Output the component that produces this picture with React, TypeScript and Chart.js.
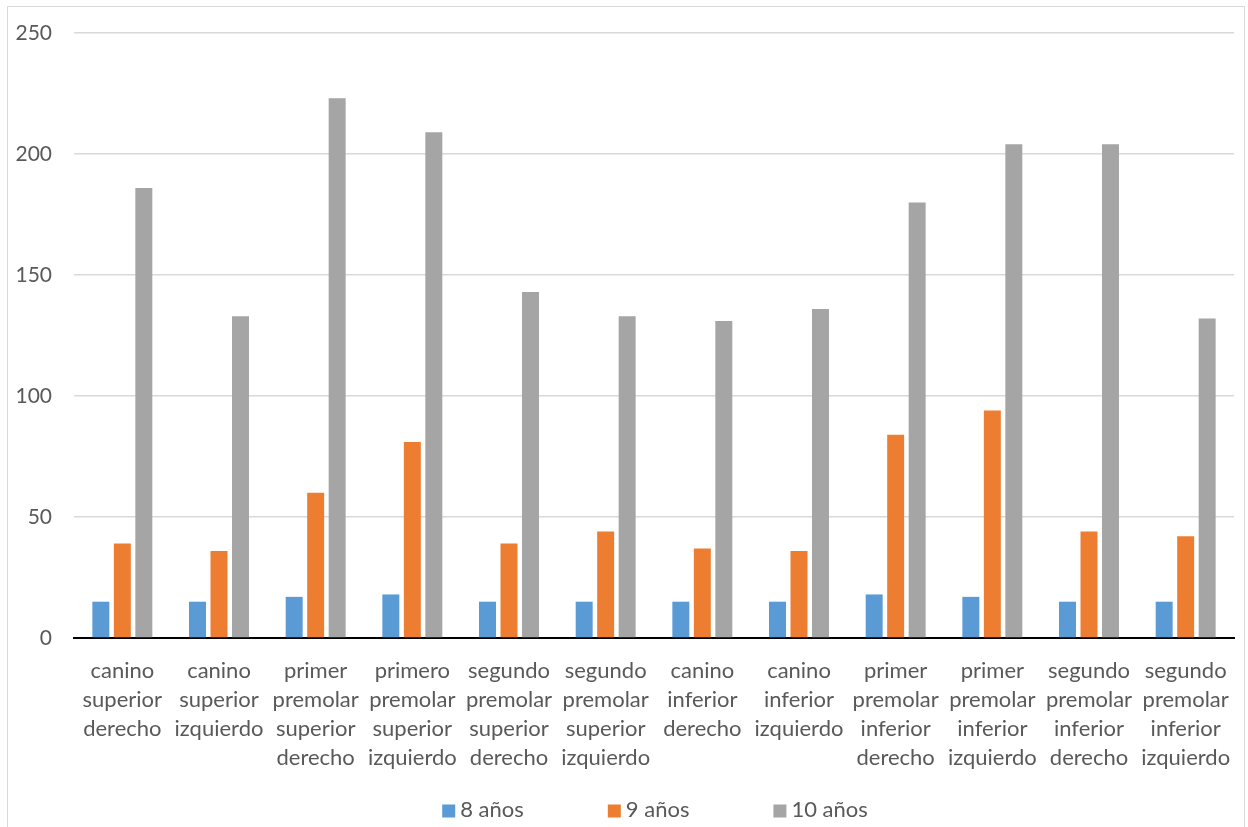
import React, { useEffect, useRef } from "react";
import { Chart, registerables } from "chart.js";

Chart.register(...registerables);

const categories: string[][] = [
  ["canino", "superior", "derecho"],
  ["canino", "superior", "izquierdo"],
  ["primer", "premolar", "superior", "derecho"],
  ["primero", "premolar", "superior", "izquierdo"],
  ["segundo", "premolar", "superior", "derecho"],
  ["segundo", "premolar", "superior", "izquierdo"],
  ["canino", "inferior", "derecho"],
  ["canino", "inferior", "izquierdo"],
  ["primer", "premolar", "inferior", "derecho"],
  ["primer", "premolar", "inferior", "izquierdo"],
  ["segundo", "premolar", "inferior", "derecho"],
  ["segundo", "premolar", "inferior", "izquierdo"],
];

const seriesNames = ["8 años", "9 años", "10 años"];
const values8 = [15, 15, 17, 18, 15, 15, 15, 15, 18, 17, 15, 15];
const values9 = [39, 36, 60, 81, 39, 44, 37, 36, 84, 94, 44, 42];
const values10 = [186, 133, 223, 209, 143, 133, 131, 136, 180, 204, 204, 132];
const colors = ["#5b9bd5", "#ed7d31", "#a5a5a5"];

const yMin = 0;
const yMax = 250;
const yStep = 50;

const fontFamily = "Lato, 'Liberation Sans', sans-serif";
const textColor = "#595959";

const bottomLegend = {
  id: "bottomLegend",
  afterDraw(chart: any) {
    const ctx = chart.ctx;
    const box = 13;
    const gap = 5;
    const spacing = 84;
    const cy = chart.height - 19;
    ctx.save();
    ctx.font = `22px ${fontFamily}`;
    ctx.textBaseline = "middle";
    ctx.textAlign = "left";
    const items = chart.data.datasets.map((ds: any) => ({
      text: ds.label,
      color: ds.backgroundColor,
      w: ctx.measureText(ds.label).width,
    }));
    const total =
      items.reduce((s: number, it: any) => s + box + gap + it.w, 0) +
      spacing * (items.length - 1);
    let x = (chart.width - total) / 2 + 29;
    items.forEach((it: any) => {
      ctx.fillStyle = it.color;
      ctx.fillRect(x, cy - box / 2 + 1, box, box);
      ctx.fillStyle = textColor;
      ctx.fillText(it.text, x + box + gap, cy);
      x += box + gap + it.w + spacing;
    });
    ctx.restore();
  },
};

export default function App() {
  const ref = useRef<HTMLCanvasElement | null>(null);

  useEffect(() => {
    if (!ref.current) return;
    const data = [values8, values9, values10];
    const chart = new Chart(ref.current, {
      type: "bar",
      data: {
        labels: categories,
        datasets: seriesNames.map((name, i) => ({
          label: name,
          data: data[i],
          backgroundColor: colors[i],
          borderWidth: 0,
          categoryPercentage: 0.667,
          barPercentage: 0.79,
        })),
      },
      options: {
        animation: false,
        responsive: true,
        maintainAspectRatio: false,
        layout: { padding: { top: 26, right: 10, bottom: 41, left: 0 } },
        plugins: {
          tooltip: { enabled: false },
          legend: { display: false },
        },
        scales: {
          x: {
            grid: { display: false, drawTicks: false },
            border: { display: true, color: "#000000", width: 2 },
            ticks: {
              autoSkip: false,
              maxRotation: 0,
              minRotation: 0,
              padding: 18,
              color: textColor,
              font: { family: fontFamily, size: 22, lineHeight: "29px" },
            },
            afterFit: (scale: any) => {
              scale.height = 150;
              scale.paddingLeft = 0;
              scale.paddingRight = 0;
            },
          },
          y: {
            min: yMin,
            max: yMax,
            border: { display: false },
            grid: {
              drawTicks: false,
              lineWidth: 1.5,
              color: (ctx: any) =>
                ctx.tick && ctx.tick.value === 0 ? "rgba(0,0,0,0)" : "#d9d9d9",
            },
            ticks: {
              stepSize: yStep,
              padding: 22,
              color: textColor,
              font: { family: fontFamily, size: 21 },
            },
            afterFit: (scale: any) => {
              scale.width = 66;
              scale.paddingTop = 12;
              scale.paddingBottom = 12;
            },
          },
        },
      },
      plugins: [bottomLegend],
    });
    return () => chart.destroy();
  }, []);

  return (
    <div
      style={{
        position: "fixed",
        left: 7,
        top: 6,
        width: 1236,
        height: 822,
        border: "1px solid #d9d9d9",
        background: "#ffffff",
      }}
    >
      <canvas ref={ref} />
    </div>
  );
}
